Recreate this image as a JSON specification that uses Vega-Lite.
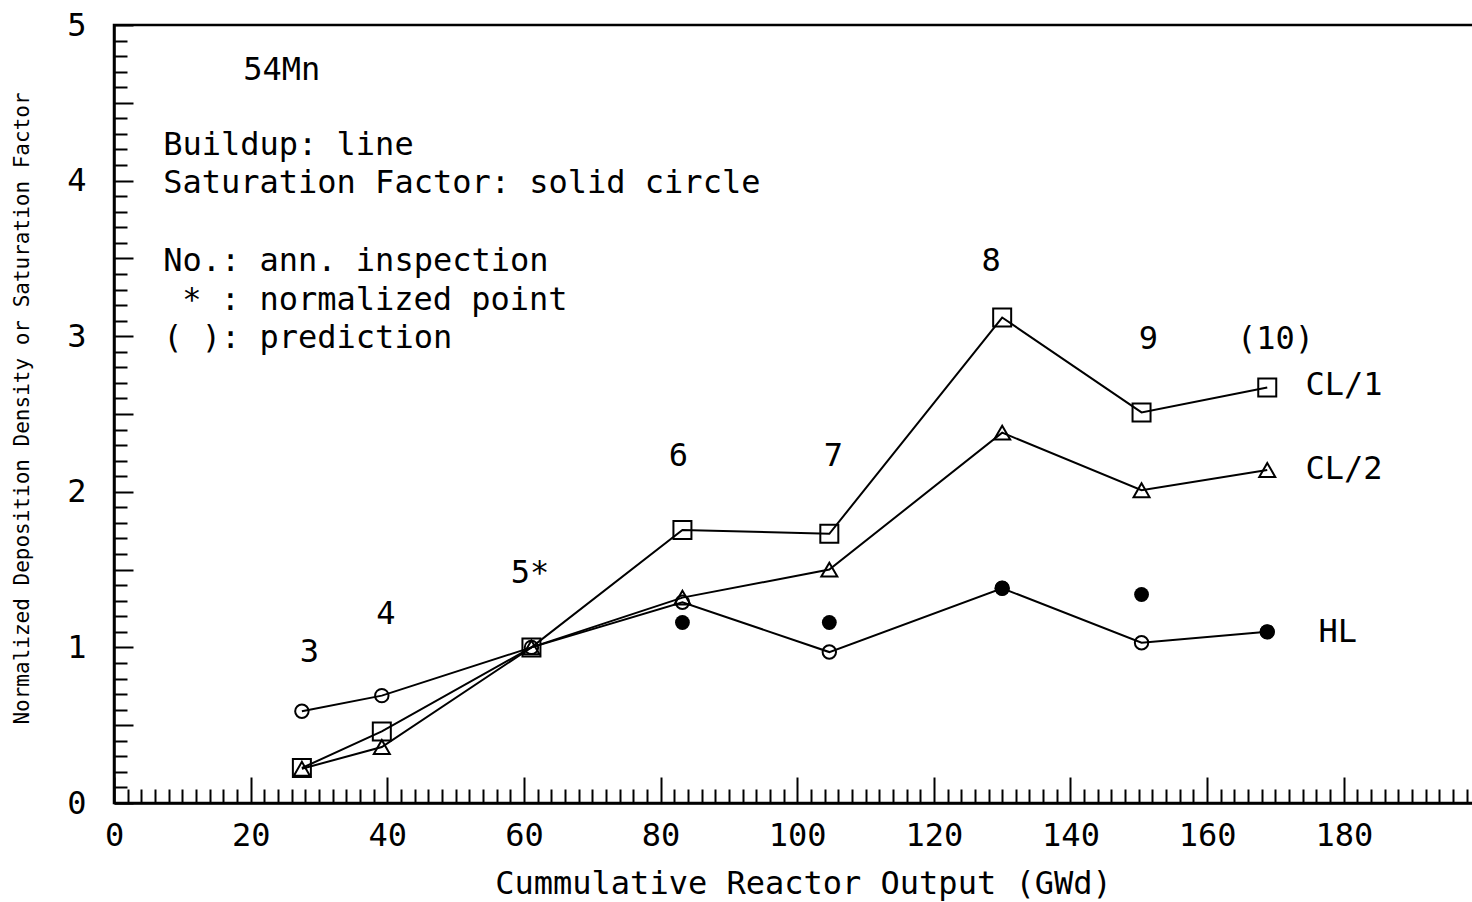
{
  "$schema": "https://vega.github.io/schema/vega-lite/v6.json",
  "autosize": "none",
  "padding": {"left": 114, "top": 25, "right": 0, "bottom": 99},
  "width": 1363,
  "height": 778,
  "background": "white",
  "config": {
    "view": {"stroke": "black", "strokeWidth": 2.5},
    "font": "DejaVu Sans Mono",
    "text": {"font": "DejaVu Sans Mono", "fontSize": 32, "color": "black"}
  },
  "datasets": {
    "buildup": [
      {"series": "HL", "gwd": 27.5, "value": 0.59},
      {"series": "HL", "gwd": 39.2, "value": 0.69},
      {"series": "HL", "gwd": 61.1, "value": 1.0},
      {"series": "HL", "gwd": 83.2, "value": 1.29},
      {"series": "HL", "gwd": 104.7, "value": 0.97},
      {"series": "HL", "gwd": 130.0, "value": 1.38},
      {"series": "HL", "gwd": 150.4, "value": 1.03},
      {"series": "HL", "gwd": 168.8, "value": 1.1},
      {"series": "CL/1", "gwd": 27.5, "value": 0.225},
      {"series": "CL/1", "gwd": 39.2, "value": 0.46},
      {"series": "CL/1", "gwd": 61.1, "value": 1.0},
      {"series": "CL/1", "gwd": 83.2, "value": 1.755},
      {"series": "CL/1", "gwd": 104.7, "value": 1.73},
      {"series": "CL/1", "gwd": 130.0, "value": 3.12},
      {"series": "CL/1", "gwd": 150.4, "value": 2.51},
      {"series": "CL/1", "gwd": 168.8, "value": 2.67},
      {"series": "CL/2", "gwd": 27.5, "value": 0.22},
      {"series": "CL/2", "gwd": 39.2, "value": 0.36},
      {"series": "CL/2", "gwd": 61.1, "value": 1.0},
      {"series": "CL/2", "gwd": 83.2, "value": 1.32},
      {"series": "CL/2", "gwd": 104.7, "value": 1.5},
      {"series": "CL/2", "gwd": 130.0, "value": 2.38},
      {"series": "CL/2", "gwd": 150.4, "value": 2.01},
      {"series": "CL/2", "gwd": 168.8, "value": 2.14}
    ],
    "saturation": [
      {"gwd": 83.2, "value": 1.16},
      {"gwd": 104.7, "value": 1.16},
      {"gwd": 130.0, "value": 1.38},
      {"gwd": 150.4, "value": 1.34},
      {"gwd": 168.8, "value": 1.1}
    ],
    "inspections": [
      {"label": "3", "gwd": 28.6, "value": 0.97},
      {"label": "4", "gwd": 39.8, "value": 1.215},
      {"label": "5*", "gwd": 60.9, "value": 1.478},
      {"label": "6", "gwd": 82.6, "value": 2.23},
      {"label": "7", "gwd": 105.3, "value": 2.23},
      {"label": "8", "gwd": 128.4, "value": 3.483},
      {"label": "9", "gwd": 151.4, "value": 2.982},
      {"label": "(10)", "gwd": 170.0, "value": 2.982}
    ],
    "notes": [
      {"note": "54Mn", "gwd": 18.9, "value": 4.711},
      {"note": "Buildup: line", "gwd": 7.2, "value": 4.229},
      {"note": "Saturation Factor: solid circle", "gwd": 7.2, "value": 3.985},
      {"note": "No.: ann. inspection", "gwd": 7.2, "value": 3.483},
      {"note": "* : normalized point", "gwd": 10.0, "value": 3.233},
      {"note": "( ): prediction", "gwd": 7.2, "value": 2.988},
      {"note": "CL/1", "gwd": 174.4, "value": 2.686},
      {"note": "CL/2", "gwd": 174.4, "value": 2.147},
      {"note": "HL", "gwd": 176.3, "value": 1.099}
    ]
  },
  "encoding": {
    "x": {
      "field": "gwd",
      "type": "quantitative",
      "scale": {"domain": [0, 199.5], "nice": false, "zero": false},
      "axis": {
        "title": "Cummulative Reactor Output (GWd)",
        "titleFont": "DejaVu Sans Mono",
        "titleFontSize": 32,
        "titleFontWeight": "normal",
        "titleColor": "black",
        "titleX": 689,
        "titleY": 80,
        "titleBaseline": "middle",
        "tickCount": 100,
        "labelExpr": "datum.value % 20 === 0 ? format(datum.value, 'd') : ''",
        "labelFont": "DejaVu Sans Mono",
        "labelFontSize": 32,
        "labelColor": "black",
        "labelOverlap": false,
        "labelFlush": false,
        "labelBound": false,
        "labelPadding": 43,
        "domainColor": "black",
        "domainWidth": 2.5,
        "tickColor": "black",
        "tickWidth": 2,
        "tickSize": {"condition": {"test": "datum.value % 20 === 0", "value": -26}, "value": -14},
        "grid": false
      }
    },
    "y": {
      "field": "value",
      "type": "quantitative",
      "scale": {"domain": [0, 5], "nice": false, "zero": false},
      "axis": {
        "title": "Normalized Deposition Density or Saturation Factor",
        "titleFont": "DejaVu Sans Mono",
        "titleFontSize": 21,
        "titleFontWeight": "normal",
        "titleColor": "black",
        "titleAngle": -90,
        "titleX": -92,
        "titleY": 383,
        "titleBaseline": "middle",
        "titleAlign": "center",
        "tickCount": 50,
        "labelExpr": "datum.value % 1 === 0 ? format(datum.value, 'd') : ''",
        "labelFont": "DejaVu Sans Mono",
        "labelFontSize": 32,
        "labelColor": "black",
        "labelOverlap": false,
        "labelFlush": false,
        "labelBound": false,
        "labelPadding": 47,
        "domainColor": "black",
        "domainWidth": 2.5,
        "tickColor": "black",
        "tickWidth": 2,
        "tickSize": {"condition": {"test": "datum.value % 0.5 === 0", "value": -19}, "value": -13},
        "grid": false
      }
    }
  },
  "layer": [
    {
      "data": {"name": "buildup"},
      "mark": {"type": "line", "color": "black", "strokeWidth": 2},
      "encoding": {"detail": {"field": "series"}}
    },
    {
      "data": {"name": "buildup"},
      "transform": [{"filter": "datum.series === 'HL'"}],
      "mark": {"type": "point", "shape": "circle", "size": 180, "filled": false, "color": "black", "strokeWidth": 2, "opacity": 1}
    },
    {
      "data": {"name": "buildup"},
      "transform": [{"filter": "datum.series === 'CL/1'"}],
      "mark": {"type": "point", "shape": "square", "size": 324, "filled": false, "color": "black", "strokeWidth": 2, "opacity": 1}
    },
    {
      "data": {"name": "buildup"},
      "transform": [{"filter": "datum.series === 'CL/2'"}],
      "mark": {"type": "point", "shape": "triangle-up", "size": 256, "filled": false, "color": "black", "strokeWidth": 2, "opacity": 1}
    },
    {
      "data": {"name": "saturation"},
      "mark": {"type": "point", "shape": "circle", "size": 220, "filled": true, "color": "black", "opacity": 1}
    },
    {
      "data": {"name": "inspections"},
      "mark": {"type": "text", "align": "center", "baseline": "middle"},
      "encoding": {"text": {"field": "label"}}
    },
    {
      "data": {"name": "notes"},
      "mark": {"type": "text", "align": "left", "baseline": "middle"},
      "encoding": {"text": {"field": "note"}}
    }
  ]
}
